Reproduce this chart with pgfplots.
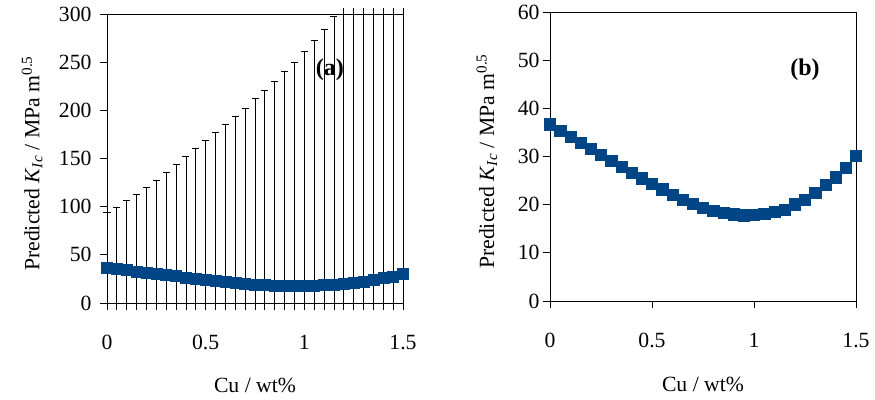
\documentclass[border=0pt]{standalone}
\usepackage{pgfplots}
\pgfplotsset{compat=1.18}
\usepackage{pgfplotstable}
\usepackage{fontspec}
\setmainfont{Liberation Serif}
\definecolor{kblue}{RGB}{0,69,134}
\newcommand{\fs}{\fontsize{21.7bp}{26bp}\selectfont}
\newcommand{\fb}{\fontsize{24bp}{28bp}\selectfont\bfseries}
\pgfplotstableread{
x     v
0     36.7
0.05  35.4
0.1   34.1
0.15  32.9
0.2   31.6
0.25  30.4
0.3   29.2
0.35  27.8
0.4   26.6
0.45  25.5
0.5   24.4
0.55  23.2
0.6   22.1
0.65  21.1
0.7   20.2
0.75  19.4
0.8   18.8
0.85  18.3
0.9   18.0
0.95  17.8
1.0   17.9
1.05  18.1
1.1   18.5
1.15  19.0
1.2   20.1
1.25  21.1
1.3   22.4
1.35  24.1
1.4   25.7
1.45  27.7
1.5   30.1
}\data
\pgfplotstableread{
x     z  top
0     0  94
0.05  0  99.5
0.1   0  106
0.15  0  112.7
0.2   0  119.6
0.25  0  127.5
0.3   0  135.8
0.35  0  143.8
0.4   0  152.4
0.45  0  160.7
0.5   0  168.3
0.55  0  177
0.6   0  185
0.65  0  193.5
0.7   0  202.5
0.75  0  211.9
0.8   0  220.8
0.85  0  230
0.9   0  240.5
0.95  0  250
1.0   0  261
1.05  0  272.7
1.1   0  284
1.15  0  297
}\capped
\pgfplotstableread{
x     z  top
1.2   0  306
1.25  0  306
1.3   0  306
1.35  0  306
1.4   0  306
1.45  0  306
1.5   0  306
}\uncapped
\pgfplotsset{
  common/.style={
    scale only axis,
    xmin=0, xmax=1.5,
    ymin=0,
    xtick={0,0.5,1,1.5},
    xtick pos=bottom, ytick pos=left,
    tick align=outside,
    major tick length=7bp,
    minor tick length=7bp,
    axis line style={black, line width=0.8bp},
    every tick/.style={black, line width=0.8bp},
    /pgf/number format/assume math mode=true,
    tick label style={font=\fs},
    label style={font=\fs},
    xticklabel style={anchor=north, yshift=-22bp},
    yticklabel style={anchor=east},
    xlabel={Cu / wt\%},
    ylabel={Predicted \textit{K}\textsubscript{\textit{Ic}} / MPa m\textsuperscript{0.5}},
    clip=false,
  }
}
\begin{document}
\begin{tikzpicture}
\useasboundingbox (0,0) rectangle (875bp,400bp);
\begin{axis}[common,
  at={(107bp,97bp)}, anchor=south west,
  width=296bp, height=289bp,
  ymax=300, ytick={0,50,...,300},
  minor x tick num=9,
  yticklabel style={xshift=-5bp},
  xlabel style={at={(axis description cs:0.5,-0.284)}, anchor=center},
  ylabel style={at={(axis description cs:-0.253,0.483)}, anchor=center},
]
\addplot[draw=none, mark=none, forget plot,
  error bars/.cd, y dir=plus, y explicit, error mark=-,
  error bar style={draw=black, line width=0.8bp},
  error mark options={draw=black, line width=0.8bp, mark size=3.5bp, rotate=90}]
  table[x=x, y=z, y error=top] {\capped};
\addplot[draw=none, mark=none, forget plot,
  error bars/.cd, y dir=plus, y explicit, error mark=none,
  error bar style={draw=black, line width=0.8bp}]
  table[x=x, y=z, y error=top] {\uncapped};
\addplot[only marks, mark=square*, mark size=5.5bp,
  mark options={draw=kblue, fill=kblue, line width=0.5bp}]
  table[x=x, y=v] {\data};
\node[font=\fb] at (axis cs:1.13,242) {(a)};
\end{axis}
\begin{axis}[common,
  at={(550bp,99bp)}, anchor=south west,
  width=306bp, height=289bp,
  ymax=60, ytick={0,10,...,60},
  xlabel style={at={(axis description cs:0.5,-0.29)}, anchor=center},
  ylabel style={at={(axis description cs:-0.206,0.483)}, anchor=center},
]
\addplot[only marks, mark=square*, mark size=5.6bp,
  mark options={draw=kblue, fill=kblue, line width=0.5bp}]
  table[x=x, y=v] {\data};
\node[font=\fb] at (axis cs:1.25,48) {(b)};
\end{axis}
\end{tikzpicture}
\end{document}
